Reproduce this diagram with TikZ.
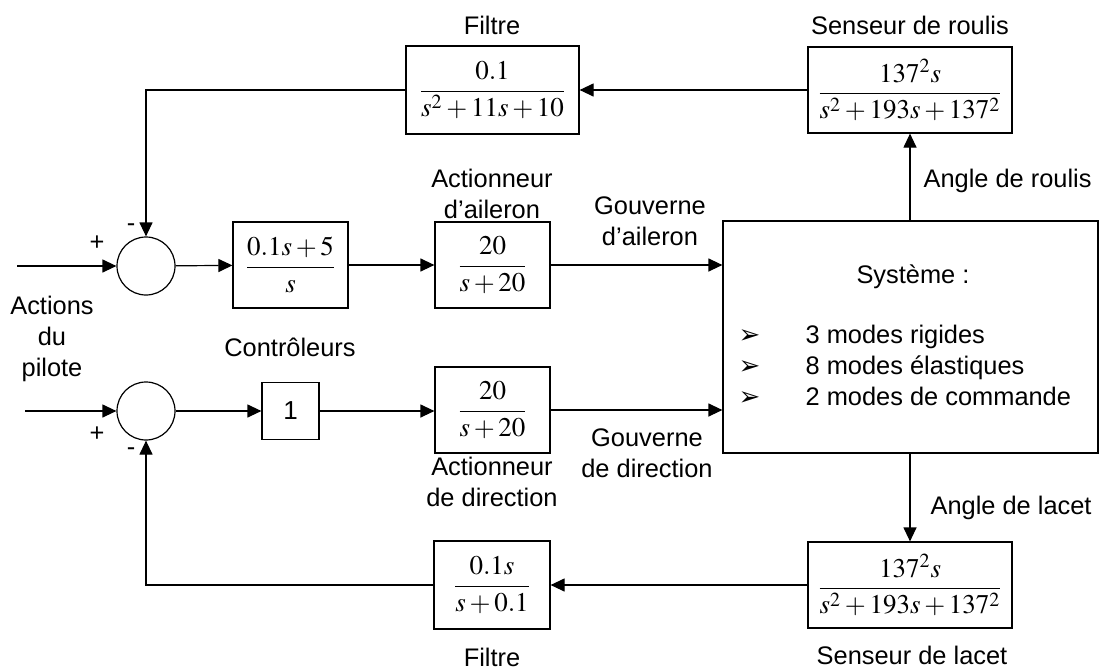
\documentclass[tikz,border=0pt]{standalone}
\usepackage{amsmath}
\usepackage{mathptmx}
\usepackage[no-math]{fontspec}
\setmainfont{Liberation Sans}
\newfontfamily\symfont{DejaVu Sans}
\usepackage{tikz}
\usetikzlibrary{arrows.meta}

\tikzset{
  blk/.style 2 args={draw, line width=0.6pt, inner sep=0pt, minimum width=#1, minimum height=#2,
                     font=\fontsize{13.5}{16}\selectfont},
  sum/.style={draw, circle, line width=0.6pt, inner sep=0pt, minimum size=29pt},
  lbl/.style={align=center, inner sep=0pt},
  >={Triangle[length=7pt,width=6.5pt]}
}

\begin{document}
\begin{tikzpicture}[x=0.5pt, y=-0.5pt, line width=0.6pt,
                    font=\fontsize{12.7}{15.5}\selectfont]
                    \useasboundingbox (0,0) rectangle (1102,669);

                    % blocs
                    \node[sum] (sumA) at (146,266) {};
                    \node[sum] (sumB) at (146,411) {};
                    \node[blk={57.5pt}{43pt}] (ctrlA) at (290.5,265) {$\dfrac{0.1s+5}{s}$};
                    \node[blk={28.5pt}{28.5pt}, font=\fontsize{13}{15}\selectfont] (ctrlB) at (290.5,411) {1};
                    \node[blk={57.5pt}{43pt}] (actA) at (492.5,265) {$\dfrac{20}{s+20}$};
                    \node[blk={57.5pt}{43pt}] (actB) at (492.5,410) {$\dfrac{20}{s+20}$};
                    \node[blk={187.5pt}{116pt}] (sys) at (910.5,337) {};
                    \node[blk={86.5pt}{44pt}] (filtA) at (492.5,90) {$\dfrac{0.1}{s^2+11s+10}$};
                    \node[blk={102pt}{43pt}] (sensA) at (910,90) {$\dfrac{137^2s}{s^2+193s+137^2}$};
                    \node[blk={58pt}{44pt}] (filtB) at (492,585) {$\dfrac{0.1s}{s+0.1}$};
                    \node[blk={102pt}{43pt}] (sensB) at (910,585) {$\dfrac{137^2s}{s^2+193s+137^2}$};

                    % textes du systeme
                    \node[lbl] (sysTitle) at (913,277) {Système :};
                    \node[lbl, anchor=west] (sysList) at (738,368) {%
                      \begin{tabular}{@{}p{33.5pt}@{}l@{}}
                        {\symfont\fontsize{13}{15}\selectfont ➢} & 3 modes rigides\\
                        {\symfont\fontsize{13}{15}\selectfont ➢} & 8 modes élastiques\\
                        {\symfont\fontsize{13}{15}\selectfont ➢} & 2 modes de commande
                      \end{tabular}};

                    % etiquettes
                    \node[lbl] (pilote) at (52,339) {Actions\\du\\pilote};
                    \node[lbl] (lblCtrl) at (290,347) {Contrôleurs};
                    \node[lbl] (lblActA) at (492,194) {Actionneur\\d'aileron};
                    \node[lbl] (lblActB) at (492,482) {Actionneur\\de direction};
                    \node[lbl] (lblGouvA) at (650,221) {Gouverne\\d'aileron};
                    \node[lbl] (lblGouvB) at (647,453) {Gouverne\\de direction};
                    \node[lbl] (lblFiltA) at (492,25) {Filtre};
                    \node[lbl] (lblFiltB) at (492,657) {Filtre};
                    \node[lbl] (lblSensA) at (910,25) {Senseur de roulis};
                    \node[lbl] (lblSensB) at (912,655) {Senseur de lacet};
                    \node[lbl, anchor=west] (lblRoulis) at (923,181) {Angle de roulis};
                    \node[lbl, anchor=west] (lblLacet) at (930,508) {Angle de lacet};

                    % signes
                    \node[lbl] (plusA) at (97,243) {+};
                    \node[lbl] (moinsA) at (131,228) {-};
                    \node[lbl] (plusB) at (97,434) {+};
                    \node[lbl] (moinsB) at (131,452) {-};

                    \coordinate (inA) at (17,266);
                    \coordinate (inB) at (25,411);

                    % liaisons
                    \draw[->] (inA) -- (sumA);
                    \draw[->] (inB) -- (sumB);
                    \draw[->] (sumA) -- (ctrlA);
                    \draw[->] (sumB) -- (ctrlB);
                    \draw[->] (ctrlA) -- (actA);
                    \draw[->] (ctrlB) -- (ctrlB -| actB.west);
                    \draw[->] (actA.east) -- (actA.east -| sys.west);
                    \draw[->] (actB.east) -- (actB.east -| sys.west);
                    \draw[->] (sys.north -| sensA.south) -- (sensA.south);
                    \draw[->] (sys.south -| sensB.north) -- (sensB.north);
                    \draw[->] (sensA) -- (filtA);
                    \draw[->] (sensB) -- (filtB);
                    \draw[->] (filtA.west) -| (sumA.north);
                    \draw[->] (filtB.west) -| (sumB.south);
                \end{tikzpicture}
\end{document}
